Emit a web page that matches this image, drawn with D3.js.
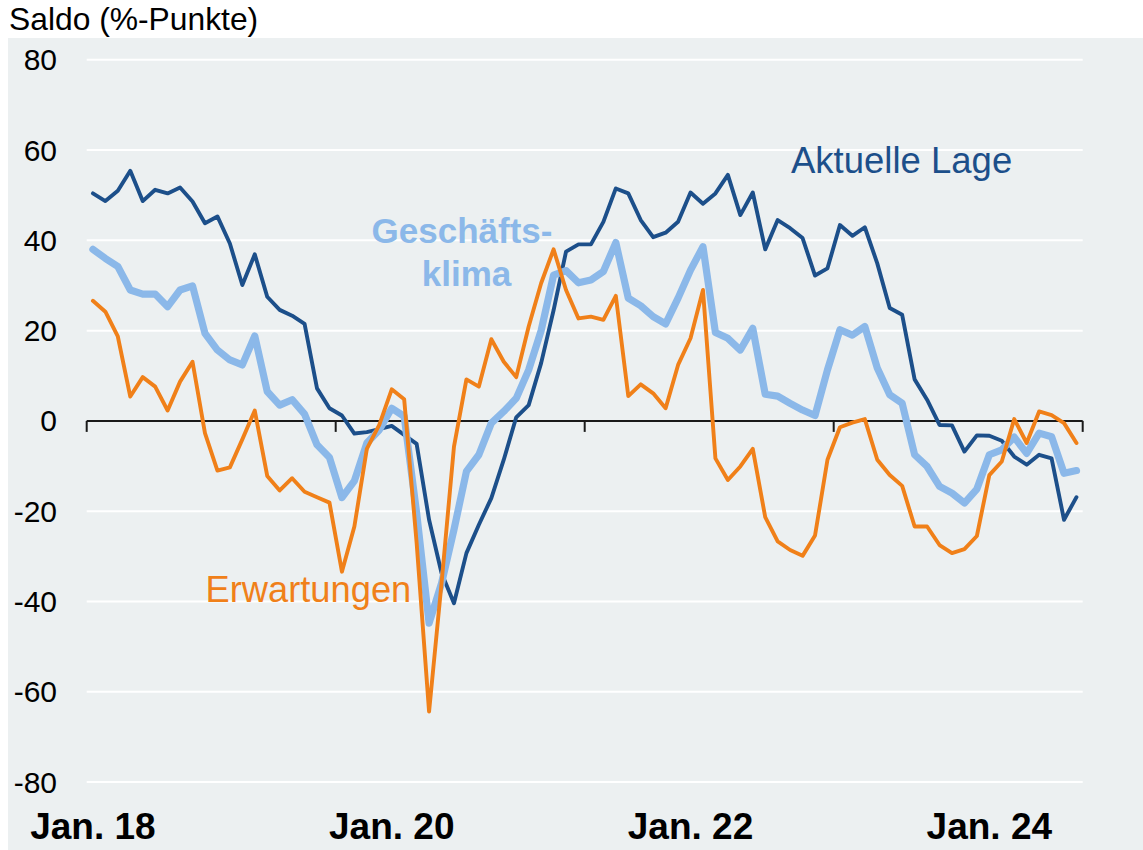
<!DOCTYPE html>
<html>
<head>
<meta charset="utf-8">
<script src="https://cdn.jsdelivr.net/npm/d3@7"></script>
<style>
  html, body { margin: 0; padding: 0; background: #ffffff; }
  svg { display: block; font-family: "Liberation Sans", Arial, sans-serif; }
</style>
</head>
<body>
<svg id="chart" width="1143" height="850"></svg>
<script>
// ---- data (monthly, Jan 2018 .. Aug 2024) ----
const startMonth = "2018-01";
const monthCount = 80;
const xTickLabels = ["Jan. 18", "Jan. 20", "Jan. 22", "Jan. 24"];
const xTickMonths = ["2018-01", "2020-01", "2022-01", "2024-01"];
const yTicks = [-80, -60, -40, -20, 0, 20, 40, 60, 80];

const aktuelleLage = [
  50.4, 48.7, 51.0, 55.4, 48.7, 51.2, 50.4, 51.7, 48.6, 43.8, 45.3, 39.3,
  30.1, 36.9, 27.5, 24.6, 23.3, 21.5, 7.2, 2.8, 1.2, -2.8, -2.5, -1.8,
  -1.1, -3.1, -5.1, -21.9, -33.7, -40.4, -29.3, -23.0, -17.1, -8.6, 0.8, 3.5,
  12.8, 24.5, 37.5, 39.1, 39.1, 44.1, 51.5, 50.4, 44.5, 40.7, 41.7, 44.1,
  50.6, 48.1, 50.4, 54.5, 45.6, 50.6, 38.0, 44.5, 42.7, 40.5, 32.2, 33.8,
  43.4, 41.0, 42.9, 34.9, 25.0, 23.5, 9.2, 4.7, -0.9, -1.0, -6.8, -3.2,
  -3.3, -4.4, -7.9, -9.7, -7.5, -8.3, -21.9, -16.9
];
const geschaeftsklima = [
  38.0, 36.0, 34.2, 29.0, 28.1, 28.1, 25.3, 29.0, 29.9, 19.4, 15.7, 13.5,
  12.4, 18.8, 6.5, 3.5, 4.7, 1.5, -5.3, -8.1, -17.0, -13.3, -4.9, -2.0,
  2.8, 1.0, -20.4, -44.8, -36.0, -24.1, -11.2, -7.5, -0.5, 2.1, 5.0, 11.3,
  20.0, 32.3, 33.3, 30.6, 31.2, 33.1, 39.5, 27.2, 25.5, 23.1, 21.5, 27.2,
  33.4, 38.6, 19.6, 18.3, 15.7, 20.5, 5.9, 5.5, 3.9, 2.4, 1.2, 11.3,
  20.2, 19.0, 20.9, 11.7, 5.8, 3.9, -7.5, -10.1, -14.5, -16.0, -18.2, -15.1,
  -7.5, -6.4, -3.6, -7.2, -2.7, -3.5, -11.6, -11.0
];
const erwartungen = [
  26.6, 24.2, 18.7, 5.4, 9.7, 7.6, 2.3, 8.7, 13.1, -2.7, -11.0, -10.3,
  -4.1, 2.3, -12.2, -15.4, -12.7, -15.7, -16.9, -18.1, -33.4, -23.4, -6.2, -0.9,
  7.0, 4.8, -27.0, -64.4, -36.0, -5.7, 9.2, 7.6, 18.1, 13.1, 9.7, 20.9,
  30.5, 38.0, 29.0, 22.7, 23.1, 22.4, 27.7, 5.5, 8.1, 6.1, 2.8, 12.4,
  18.3, 29.0, -8.3, -13.1, -10.1, -6.2, -21.3, -26.7, -28.6, -29.9, -25.4, -8.6,
  -1.4, -0.4, 0.4, -8.6, -12.0, -14.4, -23.4, -23.4, -27.5, -29.3, -28.4, -25.5,
  -12.0, -9.0, 0.4, -4.9, 2.1, 1.3, -0.5, -4.9
];

const seriesNames = ["Aktuelle Lage", "Geschäftsklima", "Erwartungen"];

// ---- categories ----
const parse = d3.timeParse("%Y-%m");
const fmt = d3.timeFormat("%Y-%m");
const months = d3.timeMonth.range(parse(startMonth), d3.timeMonth.offset(parse(startMonth), monthCount)).map(fmt);

// ---- layout ----
const svg = d3.select("#chart");
const W = 1143, H = 850;
const plotLeft = 86.7, plotRight = 1082.7;

svg.append("rect").attr("x", 0).attr("y", 0).attr("width", W).attr("height", H).attr("fill", "#ffffff");
svg.append("rect").attr("x", 8).attr("y", 38).attr("width", W - 8).attr("height", H - 38).attr("fill", "#ecf0f1");

const x = d3.scaleBand().domain(months).range([plotLeft, plotRight]).padding(0);
const xc = m => x(m) + x.bandwidth() / 2;
const y = d3.scaleLinear().domain([-80, 80]).range([782, 59.8]);

// gridlines
svg.append("g").selectAll("line").data(yTicks.filter(v => v !== 0)).join("line")
  .attr("x1", plotLeft).attr("x2", plotRight)
  .attr("y1", d => y(d)).attr("y2", d => y(d))
  .attr("stroke", "#ffffff").attr("stroke-width", 2);

// y labels
svg.append("g").selectAll("text").data(yTicks).join("text")
  .attr("x", 57).attr("y", d => y(d) + 10.5)
  .attr("text-anchor", "end")
  .attr("font-size", 30)
  .attr("fill", "#000")
  .text(d => d);

// title
svg.append("text").attr("x", 9).attr("y", 30).attr("font-size", 31.8).attr("fill", "#000")
  .text("Saldo (%-Punkte)");

// lines
const line = d3.line().x((d, i) => xc(months[i])).y(d => y(d));
const seriesData = [
  { name: seriesNames[0], values: aktuelleLage, color: "#1c4f8a", width: 3.9 },
  { name: seriesNames[1], values: geschaeftsklima, color: "#8bb8e9", width: 7.2 },
  { name: seriesNames[2], values: erwartungen, color: "#f08019", width: 3.9 }
];

// zero axis line + ticks (under lines)
const zeroG = svg.append("g");
zeroG.append("line").attr("x1", plotLeft).attr("x2", plotRight)
  .attr("y1", y(0)).attr("y2", y(0)).attr("stroke", "#1a1a1a").attr("stroke-width", 2);
const tickXs = [0, 20, 40, 60].map(i => x(months[i])).concat([plotRight]);
zeroG.selectAll("line.tick").data(tickXs).join("line").attr("class", "tick")
  .attr("x1", d => d).attr("x2", d => d)
  .attr("y1", y(0)).attr("y2", y(0) + 11)
  .attr("stroke", "#1a1a1a").attr("stroke-width", 2);

svg.append("g").selectAll("path").data(seriesData).join("path")
  .attr("d", d => line(d.values))
  .attr("fill", "none")
  .attr("stroke", d => d.color)
  .attr("stroke-width", d => d.width)
  .attr("stroke-linejoin", "round")
  .attr("stroke-linecap", "round");

// x labels via axis
const xAxis = d3.axisBottom(x).tickValues(xTickMonths)
  .tickFormat((d, i) => xTickLabels[i]).tickSize(0).tickPadding(0);
const xg = svg.append("g").attr("transform", "translate(0,0)").call(xAxis);
xg.select(".domain").remove();
xg.selectAll("text")
  .attr("y", 839).attr("dy", 0)
  .attr("font-size", 37).attr("font-weight", "bold")
  .attr("font-family", "'Liberation Sans', Arial, sans-serif")
  .attr("fill", "#000");

// series labels
svg.append("text").attr("x", 791).attr("y", 172.5).attr("font-size", 36.5)
  .attr("fill", "#1c4f8a").text("Aktuelle Lage");
const kl = svg.append("text").attr("font-size", 35).attr("font-weight", "bold")
  .attr("fill", "#8bb8e9").attr("text-anchor", "middle");
kl.append("tspan").attr("x", 462).attr("y", 242.5).text("Geschäfts-");
kl.append("tspan").attr("x", 466.5).attr("y", 286).text("klima");
svg.append("text").attr("x", 205.5).attr("y", 601.5).attr("font-size", 36.3)
  .attr("fill", "#f08019").text("Erwartungen");
</script>
</body>
</html>
